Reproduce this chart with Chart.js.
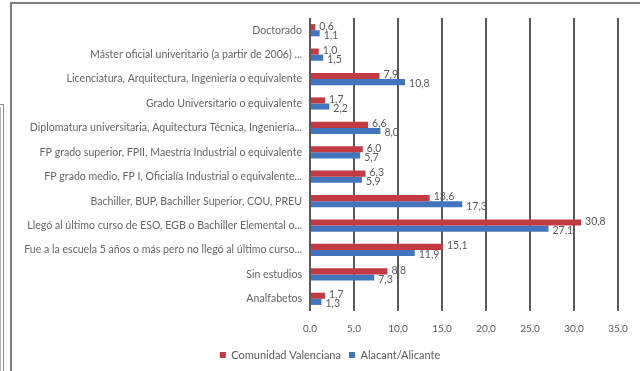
<!DOCTYPE html>
<html><head><meta charset="utf-8">
<script src="https://cdn.jsdelivr.net/npm/chart.js@4"></script>
<style>
html,body{margin:0;padding:0;background:#fff;overflow:hidden}
#wrap{position:relative;width:640px;height:371px;overflow:hidden}
#frame{position:absolute;left:10px;top:2px;width:700px;height:500px;border:2px solid #808080;box-sizing:border-box}
#bracket{position:absolute;left:-8px;top:104px;width:12px;height:400px;border:1px solid #8c8c8c;box-sizing:border-box}
#bracket2{position:absolute;left:-8px;top:107px;width:9px;height:400px;border:1px solid #b0b0b0;box-sizing:border-box}
canvas{position:absolute;left:0;top:0}
</style></head>
<body><div id="wrap"><div id="bracket"></div><div id="bracket2"></div><div id="frame"></div><canvas id="c" width="640" height="371"></canvas></div>
<script>
const categories = [
  "Doctorado",
  "Máster oficial univeritario (a partir de 2006) ...",
  "Licenciatura, Arquitectura, Ingeniería o equivalente",
  "Grado Universitario o equivalente",
  "Diplomatura universitaria, Aquitectura Técnica, Ingeniería...",
  "FP grado superior, FPII, Maestría Industrial o equivalente",
  "FP grado medio, FP I, Oficialía Industrial o equivalente...",
  "Bachiller, BUP, Bachiller Superior, COU, PREU",
  "Llegó al último curso de ESO, EGB o Bachiller Elemental o...",
  "Fue a la escuela 5 años o más pero no llegó al último curso...",
  "Sin estudios",
  "Analfabetos"
];
const comunidadValenciana = [0.6, 1.0, 7.9, 1.7, 6.6, 6.0, 6.3, 13.6, 30.8, 15.1, 8.8, 1.7];
const alicante = [1.1, 1.5, 10.8, 2.2, 8.0, 5.7, 5.9, 17.3, 27.1, 11.9, 7.3, 1.3];
const xTickLabels = ["0,0", "5,0", "10,0", "15,0", "20,0", "25,0", "30,0", "35,0"];
const seriesNames = ["Comunidad Valenciana", "Alacant/Alicante"];

const FONT = "Lato";
const fmt = v => v.toFixed(1).replace('.', ',');

const valueLabels = {
  id: 'valueLabels',
  afterDatasetsDraw(chart) {
    const ctx = chart.ctx;
    ctx.save();
    ctx.font = '10.5px ' + FONT;
    ctx.fillStyle = '#595959';
    ctx.textBaseline = 'middle';
    ctx.textAlign = 'left';
    chart.data.datasets.forEach((ds, di) => {
      const meta = chart.getDatasetMeta(di);
      meta.data.forEach((bar, i) => {
        ctx.fillText(fmt(ds.data[i]), bar.x + 4, bar.y + (di === 0 ? -1 : 2));
      });
    });
    ctx.restore();
  }
};

new Chart(document.getElementById('c'), {
  type: 'bar',
  data: {
    labels: categories,
    datasets: [
      { label: seriesNames[0], data: comunidadValenciana, backgroundColor: '#C23B43', categoryPercentage: 0.5, barPercentage: 1.0 },
      { label: seriesNames[1], data: alicante, backgroundColor: '#4275BD', categoryPercentage: 0.5, barPercentage: 1.0 }
    ]
  },
  options: {
    indexAxis: 'y',
    responsive: false,
    animation: false,
    layout: { padding: { left: 20, right: 0, top: 18, bottom: 0.5 } },
    plugins: {
      legend: {
        position: 'bottom',
        labels: { boxWidth: 6, boxHeight: 6, padding: 8, color: '#595959', font: { family: FONT, size: 11 } }
      },
      tooltip: { enabled: false }
    },
    scales: {
      x: {
        min: 0, max: 35,
        grid: { color: '#595959', lineWidth: 2, drawTicks: false },
        border: { display: false },
        ticks: { stepSize: 5, padding: 12, color: '#595959', font: { family: FONT, size: 10 },
                 callback: (v, i) => xTickLabels[i] },
        afterFit: s => { s.height = 30.5; }
      },
      y: {
        grid: { display: false, drawTicks: false },
        border: { display: false },
        ticks: { padding: 8, color: '#666', font: { family: FONT, size: 10.6 }, autoSkip: false },
        afterFit: s => { s.width = 290; }
      },
      ySpace: {
        axis: 'y',
        type: 'linear',
        position: 'right',
        grid: { display: false, drawTicks: false },
        border: { display: false },
        ticks: { display: false },
        afterFit: s => { s.width = 22; }
      }
    }
  },
  plugins: [valueLabels]
});
</script>
</body></html>
